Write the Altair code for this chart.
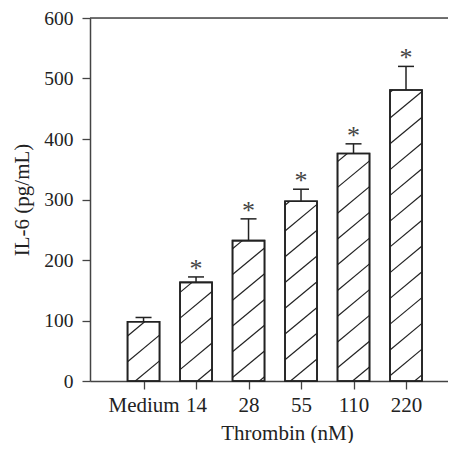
import altair as alt
import pandas as pd

categories = ["Medium", "14", "28", "55", "110", "220"]
means = [98, 163, 232, 297, 376, 481]
upper = [105, 172, 268, 317, 392, 520]
starred = [False, True, True, True, True, True]

W, H = 358, 363
XMIN, XMAX = -1.02, 5.8
YMIN, YMAX = 0, 600
BAR_PX = 32
CAP_PX = 16
FONT = "Liberation Serif"
INK = "#222222"

ux = (XMAX - XMIN) / W      # data units per px (x)
uy = (YMAX - YMIN) / H      # data units per px (y)

idx = list(range(len(categories)))
df = pd.DataFrame({
    "idx": idx,
    "cat": categories,
    "mean": means,
    "upper": upper,
    "lo": [i - BAR_PX / 2 * ux for i in idx],
    "hi": [i + BAR_PX / 2 * ux for i in idx],
    "clo": [i - CAP_PX / 2 * ux for i in idx],
    "chi": [i + CAP_PX / 2 * ux for i in idx],
    "star": ["*" if s else "" for s in starred],
})

# hatch lines ("/") clipped to each bar, derived from the bar rectangles
SLOPE, SPACING, PHASE = 0.83, 25.76, 14.2
segs = []
for i, m in zip(idx, means):
    L = (i - BAR_PX / 2 * ux - XMIN) / ux
    R = (i + BAR_PX / 2 * ux - XMIN) / ux
    T = H - m / uy
    B = H
    k = 0
    while True:
        c = PHASE + k * SPACING
        k += 1
        if c > B + SLOPE * R + SPACING:
            break
        lo = max(L, (c - B) / SLOPE)
        hi = min(R, (c - T) / SLOPE)
        if hi - lo > 0.5:
            segs.append({
                "x": XMIN + lo * ux, "x2": XMIN + hi * ux,
                "y": (H - (c - SLOPE * lo)) * uy, "y2": (H - (c - SLOPE * hi)) * uy,
            })
hatch_df = pd.DataFrame(segs)

xscale = alt.Scale(domain=[XMIN, XMAX], nice=False, zero=False)
yscale = alt.Scale(domain=[YMIN, YMAX], nice=False)

label_expr = "[" + ",".join(f"'{c}'" for c in categories) + "][datum.value]"

xaxis = alt.Axis(
    title="Thrombin (nM)", values=idx, labelExpr=label_expr, grid=False,
    tickSize=8, tickColor="#444", domainColor="#444", domainWidth=1.5, tickWidth=1.3,
    labelFont=FONT, labelFontSize=21, labelColor=INK, labelPadding=5,
    titleFont=FONT, titleFontSize=21, titleFontWeight="normal", titleColor=INK, titlePadding=7,
    titleX=197, titleAnchor="start", titleAlign="center",
)
yaxis = alt.Axis(
    title="IL-6 (pg/mL)", values=[0, 100, 200, 300, 400, 500, 600], grid=False,
    tickSize=8, tickColor="#444", domainColor="#444", domainWidth=1.5, tickWidth=1.3,
    labelFont=FONT, labelFontSize=19.5, labelColor=INK, labelPadding=9,
    titleFont=FONT, titleFontSize=21, titleFontWeight="normal", titleColor=INK, titlePadding=11,
)

base = alt.Chart(df)

bars = base.mark_bar(fill="white", stroke=INK, strokeWidth=1.6).encode(
    x=alt.X("lo:Q", scale=xscale, axis=xaxis),
    x2="hi:Q",
    y=alt.Y("mean:Q", scale=yscale, axis=yaxis),
    y2=alt.datum(0),
)

hatch = alt.Chart(hatch_df).mark_rule(color=INK, strokeWidth=1.2).encode(
    x=alt.X("x:Q", scale=xscale), x2="x2:Q",
    y=alt.Y("y:Q", scale=yscale), y2="y2:Q",
)

outline = base.mark_bar(fill=None, filled=False, stroke=INK, strokeWidth=1.6).encode(
    x=alt.X("lo:Q", scale=xscale), x2="hi:Q",
    y=alt.Y("mean:Q", scale=yscale), y2=alt.datum(0),
)

err = base.mark_rule(color=INK, strokeWidth=1.5).encode(
    x=alt.X("idx:Q", scale=xscale),
    y=alt.Y("mean:Q", scale=yscale), y2="upper:Q",
)
cap = base.mark_rule(color=INK, strokeWidth=1.5).encode(
    x=alt.X("clo:Q", scale=xscale), x2="chi:Q",
    y=alt.Y("upper:Q", scale=yscale),
)
stars = base.mark_text(font=FONT, fontSize=26, color="#444", baseline="middle", dy=-8).encode(
    x=alt.X("idx:Q", scale=xscale),
    y=alt.Y("upper:Q", scale=yscale),
    text="star:N",
)
topline = alt.Chart(pd.DataFrame({"v": [YMAX]})).mark_rule(color="#444", strokeWidth=1.5).encode(
    y=alt.Y("v:Q", scale=yscale),
    x=alt.value(0), x2=alt.value(W),
)

chart = alt.layer(bars, hatch, outline, err, cap, stars, topline).properties(
    width=W, height=H,
    autosize=alt.AutoSizeParams(type="none"),
    padding={"left": 82, "top": 10, "right": 0, "bottom": 62},
).configure_view(stroke=None).configure(background="white")

chart.save("out.html", embed_options={"renderer": "svg", "actions": False})
